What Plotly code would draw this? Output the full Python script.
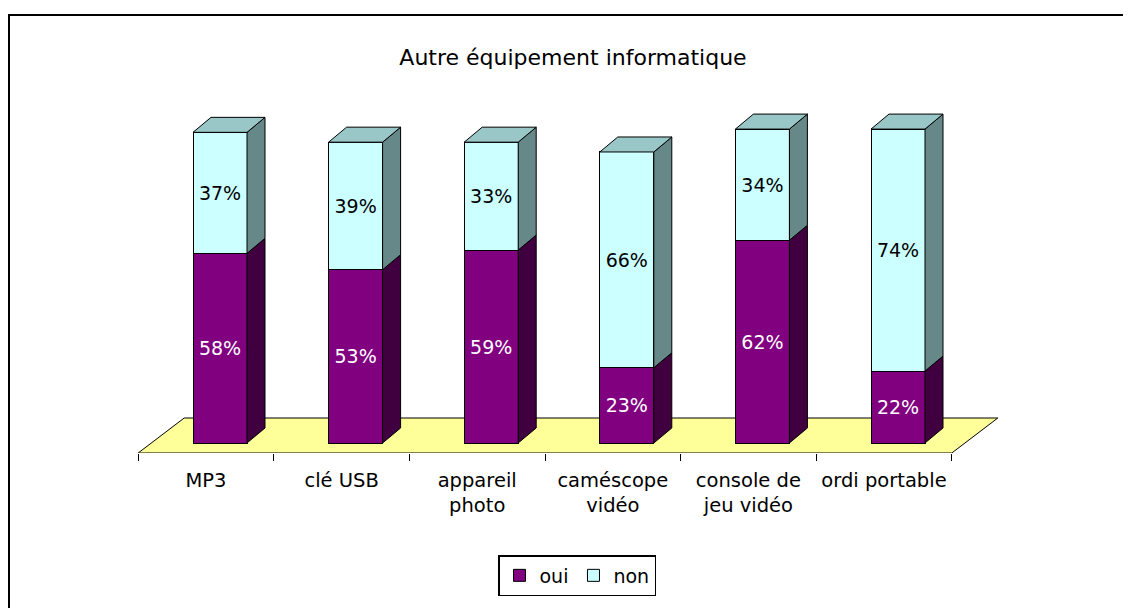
import plotly.graph_objects as go

# ── data ─────────────────────────────────────────────────────────────────────
categories = ["MP3", "clé USB", "appareil<br>photo", "caméscope<br>vidéo",
              "console de<br>jeu vidéo", "ordi portable"]
oui = [58, 53, 59, 23, 62, 22]
non = [37, 39, 33, 66, 34, 74]

_FONT = "DejaVu Sans, Verdana, Arial, sans-serif"
_OUI, _OUI_SIDE = "#800080", "#400040"
_NON, _NON_SIDE, _NON_TOP = "#CCFFFF", "#668888", "#99C6C6"
_FLOOR = "#FFFF99"

# page has an 8px body margin: target pixels are shifted by it
OFF = 8

# pixel geometry of the fake 3-D (converted to axis units)
PX_X, PX_Y = 135.6, 3.27              # px per category / px per %
CX0 = 206 - OFF                       # pixel of first category centre
BASE = 443 - OFF                      # pixel of bar bottoms
BAR_W = 54 / PX_X
BAR_OFF = -13 / PX_X
DX, DY = 18 / PX_X, 15 / PX_Y         # bar depth
FDX, FDY = 46 / PX_X, 35 / PX_Y       # floor depth
FLOOR_Y = -10 / PX_Y                  # floor front edge (bars sit behind it)

idx = list(range(len(categories)))

fig = go.Figure()

fig.add_trace(go.Bar(
    name="oui", x=idx, y=oui, width=BAR_W, offset=BAR_OFF,
    marker=dict(color=_OUI, line=dict(color="black", width=1)),
    texttemplate="%{y}%", textposition="inside", insidetextanchor="middle",
    textangle=0, textfont=dict(color="white", size=19, family=_FONT),
    hoverinfo="skip",
))
fig.add_trace(go.Bar(
    name="non", x=idx, y=non, width=BAR_W, offset=BAR_OFF,
    marker=dict(color=_NON, line=dict(color="black", width=1)),
    texttemplate="%{y}%", textposition="inside", insidetextanchor="middle",
    textangle=0, textfont=dict(color="black", size=19, family=_FONT),
    hoverinfo="skip",
))

# side and top faces
ox, oy, nx, ny, tx, ty = [], [], [], [], [], []
for i, (o, n) in enumerate(zip(oui, non)):
    xl = i + BAR_OFF
    xr = xl + BAR_W
    t = o + n
    ox += [xr, xr + DX, xr + DX, xr, xr, None]
    oy += [0, DY, o + DY, o, 0, None]
    nx += [xr, xr + DX, xr + DX, xr, xr, None]
    ny += [o, o + DY, t + DY, t, o, None]
    tx += [xl, xl + DX, xr + DX, xr, xl, None]
    ty += [t, t + DY, t + DY, t, t, None]

for xs, ys, col in [(ox, oy, _OUI_SIDE), (nx, ny, _NON_SIDE), (tx, ty, _NON_TOP)]:
    fig.add_trace(go.Scatter(
        x=xs, y=ys, mode="lines", fill="toself", fillcolor=col,
        line=dict(color="black", width=1), showlegend=False, hoverinfo="skip",
    ))

# floor
x0, x1 = -0.5, len(categories) - 0.5
fig.add_shape(
    type="path", xref="x", yref="y", layer="below",
    path=(f"M {x0},{FLOOR_Y} L {x0 + FDX},{FLOOR_Y + FDY} "
          f"L {x1 + FDX},{FLOOR_Y + FDY} L {x1},{FLOOR_Y} Z"),
    fillcolor=_FLOOR, line=dict(color="black", width=1),
)

# plot area (figure pixels)
L, T, B = 102, 92, 453 - OFF
W, H = 920, B - T

# outer frame (only top/left visible in the crop)
fig.add_shape(
    type="rect", xref="paper", yref="paper",
    x0=(1 - L) / W, x1=(1140 - L) / W, y0=(B - 620) / H, y1=(B - 7) / H,
    line=dict(color="black", width=2), fillcolor="rgba(0,0,0,0)",
)

fig.update_layout(
    barmode="stack",
    width=1131, height=608,
    margin=dict(l=L, r=1131 - L - W, t=T, b=608 - B),
    paper_bgcolor="white", plot_bgcolor="rgba(0,0,0,0)",
    font=dict(family=_FONT, color="black"),
    title=dict(text="Autre équipement informatique", font=dict(size=22),
               x=(573 - OFF) / 1131, xref="container", xanchor="center",
               y=1 - (57 - OFF) / 608, yref="container", yanchor="middle"),
    legend=dict(orientation="h", x=(498 - OFF) / 1131, xref="container", xanchor="left",
                y=1 - (555 - OFF) / 608, yref="container", yanchor="top",
                bordercolor="black", borderwidth=1.5, font=dict(size=19),
                itemwidth=30, traceorder="normal"),
    showlegend=True,
)
fig.update_xaxes(
    range=[(L - CX0) / PX_X, (L + W - CX0) / PX_X],
    tickmode="array", tickvals=idx, ticktext=categories,
    ticks="", ticklabelstandoff=13, tickfont=dict(size=19.5),
    minor=dict(tickmode="array", tickvals=[k - 0.5 for k in range(len(categories) + 1)],
               ticks="outside", ticklen=7, tickwidth=1, tickcolor="black"),
    showgrid=False, zeroline=False, showline=False, fixedrange=True,
)
fig.update_yaxes(
    range=[FLOOR_Y, (BASE - T) / PX_Y],
    visible=False, showgrid=False, zeroline=False, fixedrange=True,
)

fig.write_html("out.html")
